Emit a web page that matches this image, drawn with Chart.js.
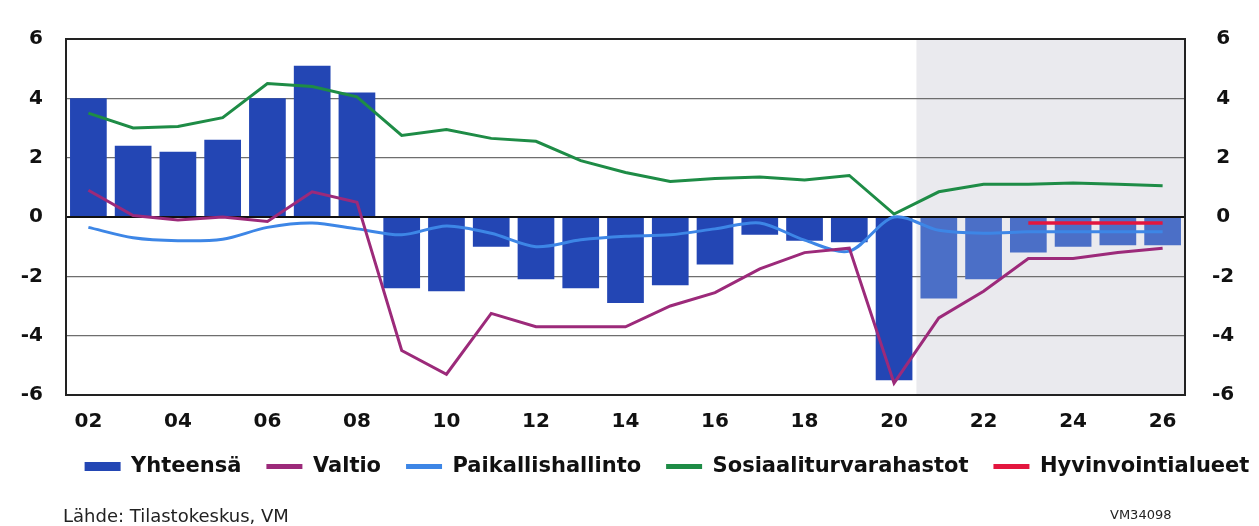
<!DOCTYPE html>
<html><head><meta charset="utf-8">
<script src="https://cdn.jsdelivr.net/npm/chart.js@4"></script>
<style>
html,body{margin:0;padding:0;background:#fff;overflow:hidden;}
#wrap{position:relative;width:1259px;height:526px;overflow:hidden;}
#c{position:absolute;left:0;top:0;}
.src{position:absolute;font-family:"DejaVu Sans";color:#222;white-space:nowrap;}
</style></head><body>
<div id="wrap">
<canvas id="c" width="1334" height="526"></canvas>
<div class="src" style="left:63px;top:505px;font-size:18px;">Lähde: Tilastokeskus, VM</div>
<div class="src" style="left:1110px;top:507px;font-size:13px;">VM34098</div>
</div>
<script>
const years = ['02','03','04','05','06','07','08','09','10','11','12','13','14','15','16','17','18','19','20','21','22','23','24','25','26'];
const yhteensa = [4.0, 2.4, 2.2, 2.6, 4.0, 5.1, 4.2, -2.4, -2.5, -1.0, -2.1, -2.4, -2.9, -2.3, -1.6, -0.6, -0.8, -0.85, -5.5, -2.75, -2.1, -1.2, -1.0, -0.95, -0.95];
const valtio = [0.9, 0.05, -0.1, 0.0, -0.15, 0.85, 0.5, -4.5, -5.3, -3.25, -3.7, -3.7, -3.7, -3.0, -2.55, -1.75, -1.2, -1.05, -5.6, -3.4, -2.5, -1.4, -1.4, -1.2, -1.05];
const paikallishallinto = [-0.35, -0.7, -0.8, -0.75, -0.35, -0.2, -0.4, -0.6, -0.3, -0.55, -1.0, -0.77, -0.65, -0.6, -0.4, -0.2, -0.78, -1.15, 0.0, -0.45, -0.55, -0.5, -0.5, -0.5, -0.5];
const sosiaaliturvarahastot = [3.5, 3.0, 3.05, 3.35, 4.5, 4.4, 4.05, 2.75, 2.95, 2.65, 2.55, 1.9, 1.5, 1.2, 1.3, 1.35, 1.25, 1.4, 0.1, 0.85, 1.1, 1.1, 1.15, 1.1, 1.05];
const hyvinvointialueet = [null,null,null,null,null,null,null,null,null,null,null,null,null,null,null,null,null,null,null,null,null,-0.2,-0.2,-0.2,-0.2];
const forecastStart = 19; // first forecast index (2021)
const yTicks = [-6,-4,-2,0,2,4,6];

const barColors = years.map((y,i)=> i >= forecastStart ? '#4b6fc7' : '#2346b4');

const shadePlugin = {
  id:'shade',
  beforeDraw(chart){
    const {ctx, chartArea, scales} = chart;
    const x = (scales.x.getPixelForValue(forecastStart-1) + scales.x.getPixelForValue(forecastStart))/2;
    ctx.save();
    ctx.fillStyle = '#eaeaee';
    ctx.fillRect(x, chartArea.top, chartArea.right - x, chartArea.bottom - chartArea.top);
    ctx.restore();
  },
  afterDatasetDraw(chart, args){
    if (args.index !== 0) return;
    const {ctx, chartArea, scales} = chart;
    const y = scales.y.getPixelForValue(0);
    ctx.save();
    ctx.strokeStyle = '#111';
    ctx.lineWidth = 2;
    ctx.beginPath(); ctx.moveTo(chartArea.left, y); ctx.lineTo(chartArea.right, y); ctx.stroke();
    ctx.restore();
  },
  afterDraw(chart){
    const {ctx, chartArea} = chart;
    ctx.save();
    ctx.strokeStyle = '#222';
    ctx.lineWidth = 2;
    ctx.strokeRect(chartArea.left, chartArea.top, chartArea.right - chartArea.left, chartArea.bottom - chartArea.top);
    ctx.restore();
  }
};

const tickFont = {family:'DejaVu Sans', size:20, weight:'bold'};

new Chart(document.getElementById('c'), {
  type:'bar',
  data:{
    labels: years,
    datasets:[
      {label:'Yhteensä', data:yhteensa, backgroundColor:barColors, borderWidth:0, order:10, barPercentage:0.82, categoryPercentage:1.0, pointStyle:'rect', yAxisID:'y'},
      {type:'line', label:'Valtio', data:valtio, borderColor:'#9c2a7a', backgroundColor:'#9c2a7a', borderWidth:3, pointRadius:0, tension:0, pointStyle:'line', yAxisID:'y'},
      {type:'line', label:'Paikallishallinto', data:paikallishallinto, borderColor:'#3d86e6', backgroundColor:'#3d86e6', borderWidth:3, pointRadius:0, tension:0.3, pointStyle:'line', yAxisID:'y'},
      {type:'line', label:'Sosiaaliturvarahastot', data:sosiaaliturvarahastot, borderColor:'#1e8c46', backgroundColor:'#1e8c46', borderWidth:3, pointRadius:0, tension:0, pointStyle:'line', yAxisID:'y'},
      {type:'line', label:'Hyvinvointialueet', data:hyvinvointialueet, borderColor:'#e3163e', backgroundColor:'#e3163e', borderWidth:3.5, pointRadius:0, tension:0, pointStyle:'line', spanGaps:false, yAxisID:'y'}
    ]
  },
  options:{
    responsive:false,
    animation:false,
    devicePixelRatio:1,
    layout:{padding:{top:30,left:0,right:0,bottom:39}},
    scales:{
      x:{
        grid:{display:false},
        border:{display:false},
        ticks:{autoSkip:false, maxRotation:0, padding:7, color:'#111', font:tickFont,
          callback:function(v,i){ return i % 2 === 0 ? years[i] : ''; }},
        afterFit(s){ s.height = 36; }
      },
      y:{
        position:'left', min:-6, max:6,
        afterBuildTicks(s){ s.ticks = yTicks.map(v=>({value:v})); },
        grid:{color:'#6e6e6e', lineWidth:1.2, drawTicks:false},
        border:{display:false},
        ticks:{padding:23, color:'#111', font:tickFont},
        afterFit(s){ s.width = 66; }
      },
      y2:{
        position:'right', min:-6, max:6,
        afterBuildTicks(s){ s.ticks = yTicks.map(v=>({value:v})); },
        grid:{display:false, drawTicks:false},
        border:{display:false},
        ticks:{padding:27, crossAlign:'center', color:'#111', font:tickFont},
        afterFit(s){ s.width = 149; }
      }
    },
    plugins:{
      tooltip:{enabled:false},
      legend:{
        position:'bottom',
        labels:{
          usePointStyle:true, pointStyleWidth:36, boxHeight:9, padding:25,
          color:'#111', font:{family:'DejaVu Sans', size:21, weight:'bold'},
          sort:(a,b)=>a.datasetIndex-b.datasetIndex,
          generateLabels(chart){
            const items = Chart.defaults.plugins.legend.labels.generateLabels(chart);
            items.forEach(it=>{ if(it.datasetIndex>0){ it.lineWidth = 5; } });
            return items;
          }
        }
      }
    }
  },
  plugins:[shadePlugin]
});
</script>
</body></html>
